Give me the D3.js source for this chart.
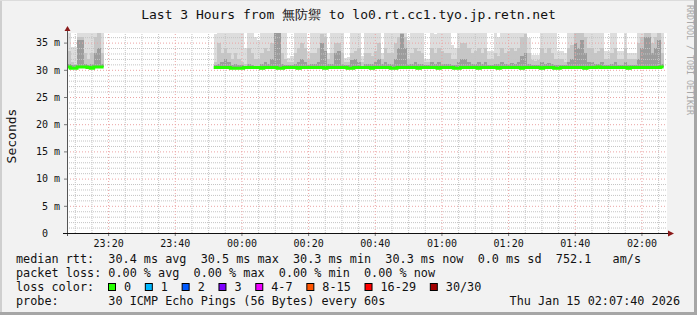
<!DOCTYPE html>
<html>
<head>
<meta charset="utf-8">
<script src="https://cdn.jsdelivr.net/npm/d3@7"></script>
<style>
body { margin: 0; background: #f2f2f2; }
text { font-family: "DejaVu Sans Mono", monospace; white-space: pre; }
</style>
</head>
<body>
<div id="chart"></div>
<script>
// one value per 60s step, starting at 23:07:40 (null = no data)
var startTime = new Date(Date.UTC(2026, 0, 14, 23, 7, 40))
var endTime = new Date(Date.UTC(2026, 0, 15, 2, 7, 40))
var stepSeconds = 60

var medianRtt = [
  30.5,30.3,30.3,30.5,30.5,30.5,30.4,30.3,30.5,30.5,30.5,
  null,null,null,null,null,null,null,null,null,null,null,null,null,null,null,null,null,
  null,null,null,null,null,null,null,null,null,null,null,null,null,null,null,null,
  30.4,30.4,30.4,30.4,30.4,30.3,30.3,30.3,30.3,30.4,
  30.4,30.4,30.4,30.4,30.3,30.4,30.4,30.4,30.4,30.3,
  30.3,30.4,30.4,30.4,30.4,30.3,30.4,30.4,30.4,30.4,
  30.4,30.4,30.4,30.3,30.4,30.4,30.4,30.4,30.4,30.4,
  30.3,30.3,30.4,30.4,30.4,30.4,30.4,30.3,30.4,30.4,
  30.4,30.4,30.4,30.3,30.3,30.4,30.4,30.4,30.4,30.4,
  30.4,30.3,30.4,30.4,30.4,30.4,30.4,30.3,30.4,30.4,
  30.4,30.4,30.3,30.3,30.4,30.4,30.4,30.4,30.4,30.3,
  30.4,30.4,30.4,30.4,30.4,30.3,30.4,30.4,30.4,30.4,
  30.4,30.4,30.3,30.4,30.4,30.4,30.4,30.4,30.3,30.4,
  30.4,30.4,30.3,30.3,30.4,30.4,30.4,30.4,30.4,30.4,
  30.4,30.3,30.4,30.4,30.4,30.5,30.4,30.4,30.4,30.4,
  30.4,30.4,30.4,30.4,30.3,30.4,30.4,30.4,30.4,30.4,
  30.4,30.4,30.4,30.4,30.5
]

// upper edge of the outer (light) smoke band
var smokeLight = [
  37,34.2,34.2,37,37,37,37,37,37,37,37,
  null,null,null,null,null,null,null,null,null,null,null,null,null,null,null,null,null,
  null,null,null,null,null,null,null,null,null,null,null,null,null,null,null,null,
  36.5,37,37,37,37,37,37,37,37,34,
  37,37,36,35.5,37,37,37,37,37,37,
  37,37,32.2,32.5,37,37,37,37,33.5,37,
  37,37,37,37,33,37,37,37,37,32.2,
  32.3,37,37,37,32.5,37,37,37,37,37,
  33,37,37,37,37,37,37,37,35.5,37,
  37,37,37,32,32,37,36.5,37,37,37,
  37,34.5,34,37,37,37,37,37,37,37,
  37,37,33.5,33.5,37,36,37,37,37,37,
  37,37,37,37,35.8,32.7,32.7,32.7,37,37,
  37,37,37,33.5,33.5,33,37,37,37,37,
  37,37,37,37,37,37,37,33.5,33.5,37,
  37,33.5,33.5,37,33,33,33,37,37,37,
  37,37,37,37,37
]

// upper edge of the middle smoke band
var smokeMid = [
  33.5,31.5,31,36,36,33,32,33,36,37,33,
  null,null,null,null,null,null,null,null,null,null,null,null,null,null,null,null,null,
  null,null,null,null,null,null,null,null,null,null,null,null,null,null,null,null,
  31.5,35,33,34,33,32,33,32,31.5,31,
  34,33,32,32,33,34,33.5,35,37,37,
  33,32,31.5,31.5,33,34,35,34,32,33,
  33,34,36.5,36,32,33,35,35,33,31.5,
  31.5,33,33.5,34,31.5,33,33,32.5,33.5,35,
  32,34,33,33,35,36,37,36,32,33,
  34,33.5,33,31.5,31.5,34,33,34,33.5,33,
  33,32,32,34,35,35,34,33,33.5,34,
  33,34,32,32,33,32.5,34,33,33.5,34,
  33.5,34,36,36.5,33,31.8,31.6,31.8,34,33,
  34,33,32,32,32,31.5,34,34.5,37,37,
  37,36,34,34,33,33.5,34,32,32,33,
  34,32,32,34,32,32,32,35,36,37,
  37,35,36,37,33
]

// upper edge of the inner (dark) smoke band
var smokeDark = [
  31,30.8,30.8,35.5,35.5,31,30.8,31,33,34,31,
  null,null,null,null,null,null,null,null,null,null,null,null,null,null,null,null,null,
  null,null,null,null,null,null,null,null,null,null,null,null,null,null,null,null,
  30.8,31,31.5,32,31.5,30.8,31,30.8,30.8,30.6,
  31,30.8,30.7,30.7,31,31.5,31,32,37,37,
  31,30.8,30.8,30.8,31,31.5,32,31.5,30.9,31,
  31,31.5,35,33.5,31,31,33,33.5,31,30.8,
  30.8,31.8,32,31.5,30.7,31,31,31,31.5,32,
  31,31.5,31,31,32,34,36.5,34,31,31,
  31.5,31,31,30.8,30.8,31.5,31,31.5,31,31,
  31,30.9,30.9,31.5,32,32,31.5,31,31,31.5,
  31,31.5,30.8,30.8,31,31,31.5,31,31,31.2,
  31,31.5,32.5,33,31,30.8,30.8,30.8,31.5,31,
  31.2,31,30.9,30.9,30.9,30.8,31.5,32,35,34,
  35.5,33,31.5,31.5,31,31,31.5,30.9,30.9,31,
  31.5,30.9,30.9,31.5,30.9,30.9,30.9,32,34,36,
  36,33,34,35.5,31
]

var yMajorTicks = [0, 5, 10, 15, 20, 25, 30, 35]
var lossLabels = ["0", "1", "2", "3", "4-7", "8-15", "16-29", "30/30"]
var lossColors = ["#26ff00", "#00b8ff", "#0059ff", "#7e00ff", "#ee00ff", "#ff5500", "#ff0000", "#a10000"]
var legendLines = [
  "median rtt:  30.4 ms avg  30.5 ms max  30.3 ms min  30.3 ms now  0.0 ms sd  752.1   am/s",
  "packet loss: 0.00 % avg  0.00 % max  0.00 % min  0.00 % now"
]
var probeText = "probe:       30 ICMP Echo Pings (56 Bytes) every 60s"
var dateText = "Thu Jan 15 02:07:40 2026"
var titleText = "Last 3 Hours from 無防禦 to lo0.rt.cc1.tyo.jp.retn.net"

var width = 697, height = 315
var plot = {left: 67, right: 667, top: 33, bottom: 233}

var svg = d3.select("#chart").append("svg")
  .attr("width", width)
  .attr("height", height)

// background + 3d frame
svg.append("rect").attr("width", width).attr("height", height).attr("fill", "#f2f2f2")
svg.append("rect").attr("x", 0).attr("y", 0).attr("width", 2).attr("height", height).attr("fill", "#cfcfcf")
svg.append("rect").attr("x", 0).attr("y", 0).attr("width", width).attr("height", 1).attr("fill", "#dcdcdc")
svg.append("rect").attr("x", width - 3).attr("y", 0).attr("width", 3).attr("height", height).attr("fill", "#a6a6a6")
svg.append("rect").attr("x", 0).attr("y", height - 3).attr("width", width).attr("height", 3).attr("fill", "#a6a6a6")

var x = d3.scaleUtc().domain([startTime, endTime]).range([plot.left, plot.right])
var y = d3.scaleLinear().domain([0, (plot.bottom - plot.top) / 5.44]).range([plot.bottom, plot.top])
var yTop = y.domain()[1]

svg.append("rect")
  .attr("x", plot.left).attr("y", plot.top)
  .attr("width", plot.right - plot.left).attr("height", plot.bottom - plot.top)
  .attr("fill", "#ffffff")

svg.append("clipPath").attr("id", "plotclip")
  .append("rect")
  .attr("x", plot.left).attr("y", plot.top)
  .attr("width", plot.right - plot.left).attr("height", plot.bottom - plot.top)

var steps = []
for (let i = 0; i < medianRtt.length; ++i) {
  if (medianRtt[i] == null) continue
  steps.push({
    t: new Date(+startTime + i * stepSeconds * 1000),
    t2: new Date(+startTime + (i + 1) * stepSeconds * 1000),
    m: medianRtt[i], light: smokeLight[i], mid: smokeMid[i], dark: smokeDark[i]
  })
}

// smoke
var smoke = svg.append("g").attr("clip-path", "url(#plotclip)").attr("shape-rendering", "crispEdges")
var layers = [{key: "light", color: "#dddddd"}, {key: "mid", color: "#c6c6c6"}, {key: "dark", color: "#9c9c9c"}]
layers.forEach(function(layer) {
  smoke.append("g").selectAll("rect")
    .data(steps)
    .enter().append("rect")
      .attr("x", d => x(d.t))
      .attr("width", d => x(d.t2) - x(d.t) + 0.4)
      .attr("y", d => y(Math.min(d[layer.key], yTop)))
      .attr("height", d => y(d.m) - y(Math.min(d[layer.key], yTop)))
      .attr("fill", layer.color)
})

// grid
var plotW = plot.right - plot.left, plotH = plot.bottom - plot.top
var yMinor = d3.range(1, 37).filter(v => v % 5 != 0)
var gMinorY = svg.append("g").attr("transform", "translate(" + plot.left + ",0)")
  .call(d3.axisLeft(y).tickValues(yMinor).tickSize(-plotW).tickFormat(""))
var gMajorY = svg.append("g").attr("transform", "translate(" + plot.left + ",0)")
  .call(d3.axisLeft(y).tickValues(yMajorTicks.filter(v => v > 0)).tickSize(-plotW).tickFormat(""))

var allFive = d3.utcMinute.every(5).range(startTime, endTime)
var xMinor = allFive.filter(d => d.getUTCMinutes() % 20 != 0)
var xMajor = allFive.filter(d => d.getUTCMinutes() % 20 == 0)
var gMinorX = svg.append("g").attr("transform", "translate(0," + plot.bottom + ")")
  .call(d3.axisBottom(x).tickValues(xMinor).tickSize(-plotH).tickFormat(""))
var gMajorX = svg.append("g").attr("transform", "translate(0," + plot.bottom + ")")
  .call(d3.axisBottom(x).tickValues(xMajor).tickSize(-plotH).tickFormat(""))

;[gMinorY, gMinorX].forEach(function(g) {
  g.select(".domain").remove()
  g.selectAll("line").attr("stroke", "#c4c4c4").attr("stroke-dasharray", "1,1")
})
;[gMajorY, gMajorX].forEach(function(g) {
  g.select(".domain").remove()
  g.selectAll("line").attr("stroke", "#eba3a3").attr("stroke-dasharray", "1,2")
})

// median line, stepped
var linePts = []
for (let i = 0; i < medianRtt.length; ++i) {
  let t = new Date(+startTime + i * stepSeconds * 1000)
  let t2 = new Date(+startTime + (i + 1) * stepSeconds * 1000)
  linePts.push({t: t, v: medianRtt[i]})
  linePts.push({t: t2, v: medianRtt[i]})
}
var medLine = d3.line()
  .defined(d => d.v != null)
  .x(d => x(d.t))
  .y(d => y(d.v))
svg.append("path")
  .datum(linePts)
  .attr("clip-path", "url(#plotclip)")
  .attr("fill", "none")
  .attr("stroke", lossColors[0])
  .attr("stroke-width", 3)
  .attr("d", medLine)

// axes
var yAxis = svg.append("g").attr("transform", "translate(" + plot.left + ",0)")
  .call(d3.axisLeft(y).tickValues(yMajorTicks).tickSize(3).tickPadding(4)
    .tickFormat(d => d == 0 ? "0  " : d + " m"))
yAxis.select(".domain").remove()
yAxis.selectAll("line").attr("stroke", "#777")
yAxis.selectAll("text").attr("font-family", "DejaVu Sans Mono").attr("font-size", 10).attr("fill", "#111")

var xAxis = svg.append("g").attr("transform", "translate(0," + plot.bottom + ")")
  .call(d3.axisBottom(x).tickValues(xMajor).tickSize(3).tickPadding(3.5)
    .tickFormat(d3.utcFormat("%H:%M")))
xAxis.select(".domain").remove()
xAxis.selectAll("line").attr("stroke", "#777")
xAxis.selectAll("text").attr("font-family", "DejaVu Sans Mono").attr("font-size", 10).attr("fill", "#111")

svg.append("line")
  .attr("x1", plot.left + 0.5).attr("x2", plot.left + 0.5)
  .attr("y1", plot.bottom + 3).attr("y2", plot.top - 2)
  .attr("stroke", "#555")
svg.append("line")
  .attr("x1", plot.left - 4).attr("x2", plot.right + 2)
  .attr("y1", plot.bottom + 0.5).attr("y2", plot.bottom + 0.5)
  .attr("stroke", "#111")
svg.append("path")
  .attr("d", "M" + (plot.left - 2.5) + "," + (plot.top - 2) + "L" + (plot.left + 3.5) + "," + (plot.top - 2) + "L" + (plot.left + 0.5) + "," + (plot.top - 7) + "Z")
  .attr("fill", "#8b1a1a")
svg.append("path")
  .attr("d", "M" + (plot.right + 1) + "," + (plot.bottom - 2.5) + "L" + (plot.right + 1) + "," + (plot.bottom + 3.5) + "L" + (plot.right + 7) + "," + (plot.bottom + 0.5) + "Z")
  .attr("fill", "#8b1a1a")

// title and labels
svg.append("text")
  .attr("x", 348.5).attr("y", 19)
  .attr("text-anchor", "middle")
  .attr("font-size", 13)
  .attr("fill", "#111")
  .text(titleText)

svg.append("text")
  .attr("transform", "translate(15.5,136) rotate(-90)")
  .attr("text-anchor", "middle")
  .attr("font-size", 13)
  .attr("fill", "#111")
  .text("Seconds")

svg.append("text")
  .attr("transform", "translate(687,5) rotate(90)")
  .attr("font-size", 8.3)
  .attr("fill", "#a8a8a8")
  .text("RRDTOOL / TOBI OETIKER")

// legend
var legendX = 16, legendFont = 11.8
legendLines.forEach(function(line, i) {
  svg.append("text")
    .attr("x", legendX).attr("y", 263 + i * 13.8)
    .attr("font-size", legendFont)
    .attr("fill", "#111")
    .text(line)
})
svg.append("text")
  .attr("x", legendX).attr("y", 291)
  .attr("font-size", legendFont)
  .attr("fill", "#111")
  .text("loss color:")

var keyX = 108.5
lossLabels.forEach(function(lab, i) {
  svg.append("rect")
    .attr("x", keyX).attr("y", 283.5)
    .attr("width", 7).attr("height", 7)
    .attr("fill", lossColors[i])
    .attr("stroke", "#000")
    .attr("stroke-width", 1)
  svg.append("text")
    .attr("x", keyX + 15.5).attr("y", 291)
    .attr("font-size", legendFont)
    .attr("fill", "#111")
    .text(lab)
  keyX += 29.7 + 7.12 * lab.length
})

svg.append("text")
  .attr("x", legendX).attr("y", 304.5)
  .attr("font-size", legendFont)
  .attr("fill", "#111")
  .text(probeText)
svg.append("text")
  .attr("x", 680).attr("y", 304.5)
  .attr("text-anchor", "end")
  .attr("font-size", legendFont)
  .attr("fill", "#111")
  .text(dateText)
</script>
</body>
</html>
